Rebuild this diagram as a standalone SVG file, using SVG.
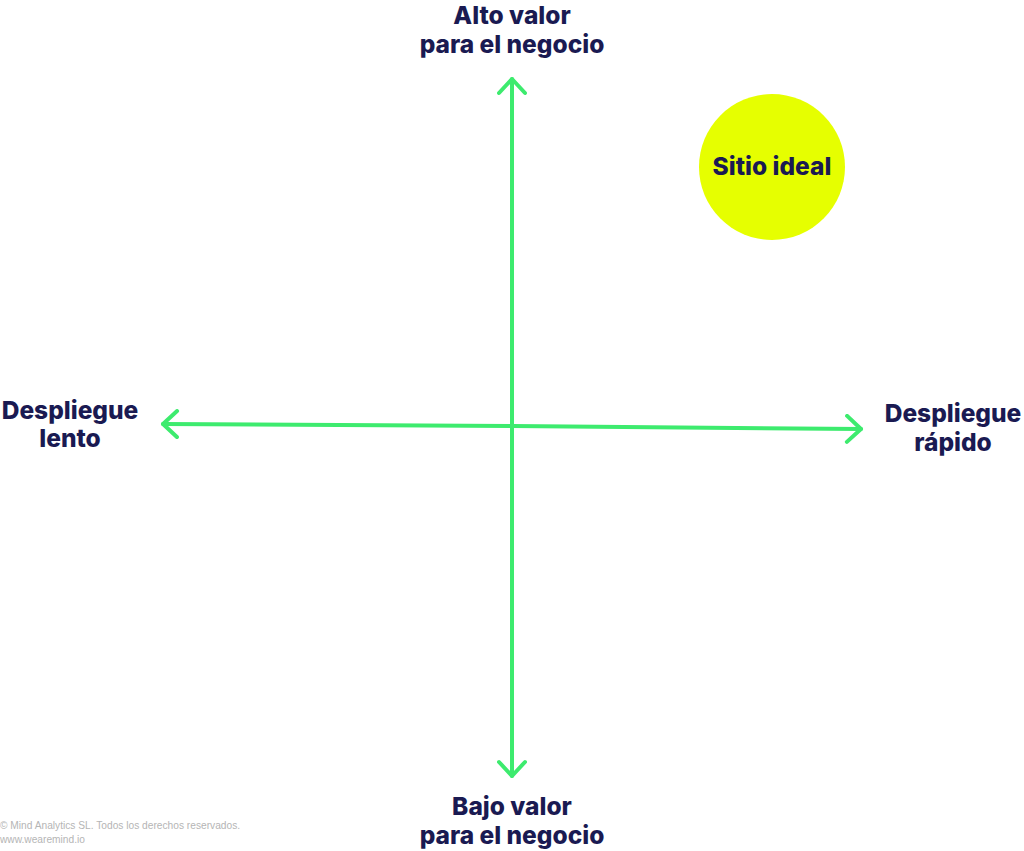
<svg xmlns="http://www.w3.org/2000/svg" width="1024" height="851" viewBox="0 0 1024 851">
<style>
.lbl{font-family:Inter,"Noto Sans",sans-serif;font-weight:800;font-size:24.5px;fill:#1a1a52;text-anchor:middle}
.ax{stroke:#3deb6e;stroke-width:4;fill:none;stroke-linecap:round}
.foot{font-family:"Liberation Sans",Arial,sans-serif;font-size:10.2px;fill:#b5b5b5}
</style>
<defs>
<marker id="ah" viewBox="0 0 20 30" refX="17" refY="15" markerWidth="5" markerHeight="7.5" orient="auto" markerUnits="strokeWidth">
<path d="M3,2 L17,15 L3,28" fill="none" stroke="#3deb6e" stroke-width="4" stroke-linecap="round" stroke-linejoin="round"/>
</marker>
</defs>
<rect width="1024" height="851" fill="#ffffff"/>
<g id="connectors">
<line class="ax" x1="512" y1="426" x2="512" y2="79" marker-end="url(#ah)"/>
<line class="ax" x1="512" y1="426" x2="512" y2="776" marker-end="url(#ah)"/>
<line class="ax" x1="512" y1="426" x2="163" y2="424" marker-end="url(#ah)"/>
<line class="ax" x1="512" y1="426" x2="861" y2="429" marker-end="url(#ah)"/>
</g>
<g id="top"><text class="lbl" x="512" y="24">Alto valor</text><text class="lbl" x="512" y="53">para el negocio</text></g>
<g id="bottom"><text class="lbl" x="512" y="815">Bajo valor</text><text class="lbl" x="512" y="844">para el negocio</text></g>
<g id="left"><text class="lbl" x="70" y="419">Despliegue</text><text class="lbl" x="70" y="447">lento</text></g>
<g id="right"><text class="lbl" x="953" y="422">Despliegue</text><text class="lbl" x="953" y="451">rápido</text></g>
<g id="ideal"><circle cx="772" cy="167" r="73" fill="#e6ff00"/><text class="lbl" x="772" y="175">Sitio ideal</text></g>
<g id="footer"><text class="foot" x="0" y="829">© Mind Analytics SL. Todos los derechos reservados.</text><text class="foot" x="0" y="843">www.wearemind.io</text></g>
</svg>
